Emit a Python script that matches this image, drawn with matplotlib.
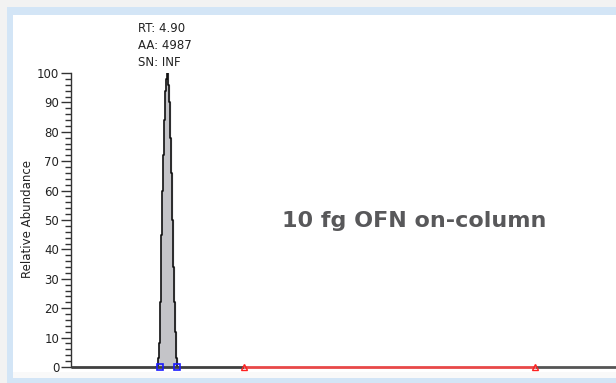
import matplotlib
matplotlib.use("Agg")
import matplotlib.pyplot as plt
from matplotlib.patches import Rectangle

# ---- data ----
peak_time = [4.78, 4.79, 4.80, 4.81, 4.82, 4.83, 4.84, 4.85, 4.86, 4.87, 4.88,
             4.89, 4.90, 4.91, 4.92, 4.93, 4.94, 4.95, 4.96, 4.97, 4.98, 4.99, 5.00]
peak_abund = [0, 0, 0, 3, 8, 22, 45, 60, 72, 84, 94,
              98, 100, 96, 90, 78, 66, 50, 34, 22, 12, 3, 0]
base_time = [3.93, 9.40]
peak_bounds = [4.82, 4.99]
red_segment = [5.66, 8.57]
yticks = [0, 10, 20, 30, 40, 50, 60, 70, 80, 90, 100]
annot_lines = ["RT: 4.90", "AA: 4987", "SN: INF"]
title_text = "10 fg OFN on-column"
ylabel_text = "Relative Abundance"

W, H = 616, 383
fig = plt.figure(figsize=(W / 100, H / 100), dpi=100)
fig.patch.set_facecolor("#f2f2f2")

# panel frame
fig.patches.append(Rectangle((7 / W, 0), 1, 1 - 7 / H, transform=fig.transFigure,
                             facecolor="#d3e5f6", edgecolor="none", zorder=-5))
fig.patches.append(Rectangle((13 / W, 5 / H), 1, 1 - 20 / H, transform=fig.transFigure,
                             facecolor="#ffffff", edgecolor="none", zorder=-4))
fig.patches.append(Rectangle((13 / W, 5 / H), 1, 6 / H, transform=fig.transFigure,
                             facecolor="#f9f9f9", edgecolor="none", zorder=-3))

x0, x1 = 71, 616
y0, y1 = 367, 73
ax = fig.add_axes([x0 / W, 1 - y0 / H, (x1 - x0) / W, (y0 - y1) / H])
ax.set_facecolor("none")
ax.set_zorder(2)

xmin = 3.93
xmax = xmin + (x1 - x0) / 100.0
ax.set_xlim(xmin, xmax)
ax.set_ylim(0, 100)

# peak
ax.fill_between(peak_time, peak_abund, step="mid", color="#c4c4c8", zorder=2)
ax.plot(peak_time, peak_abund, drawstyle="steps-mid", color="#111111", lw=1.2, zorder=3)

# baseline
ax.plot([base_time[0], red_segment[0]], [0, 0], color="#404040", lw=2, zorder=3,
        clip_on=False, solid_capstyle="butt")
ax.plot(red_segment, [0, 0], color="#e84848", lw=2, zorder=4, clip_on=False,
        solid_capstyle="butt")
ax.plot([red_segment[1], base_time[1]], [0, 0], color="#555555", lw=2, zorder=3,
        clip_on=False, solid_capstyle="butt")
ax.plot(peak_bounds, [0, 0], ls="none", marker="s", ms=5, mfc="none", mec="#1a1aff",
        mew=1.2, zorder=5, clip_on=False)
ax.plot(red_segment, [0, 0], ls="none", marker="^", ms=4, mfc="none", mec="#ff2020",
        mew=1.0, zorder=5, clip_on=False)

for s in ["top", "right", "bottom"]:
    ax.spines[s].set_visible(False)
ax.spines["left"].set_color("#333333")
ax.spines["left"].set_linewidth(1.0)
ax.set_xticks([])
ax.set_yticks(yticks)
ax.set_yticks(range(0, 101, 2), minor=True)
ax.tick_params(axis="y", which="major", length=7, width=1, color="#333333",
               labelsize=8.5, pad=1.5, labelcolor="#222222")
ax.tick_params(axis="y", which="minor", length=4.3, width=1, color="#333333")
for lab in ax.get_yticklabels():
    lab.set_family("DejaVu Sans")

fig.text(28 / W, 1 - 219 / H, ylabel_text, rotation=90, ha="center", va="center",
         fontsize=8.5, family="DejaVu Sans", color="#222222")

for i, t in enumerate(annot_lines):
    fig.text(138 / W, 1 - (29 + 16.5 * i) / H, t, ha="left", va="center",
             fontsize=8.5, family="DejaVu Sans", color="#222222")

fig.text(414 / W, 1 - 221 / H, title_text, ha="center", va="center",
         fontsize=16, fontweight="bold", family="DejaVu Sans", color="#58585a")

fig.savefig("out.png", dpi=100, facecolor=fig.get_facecolor())
